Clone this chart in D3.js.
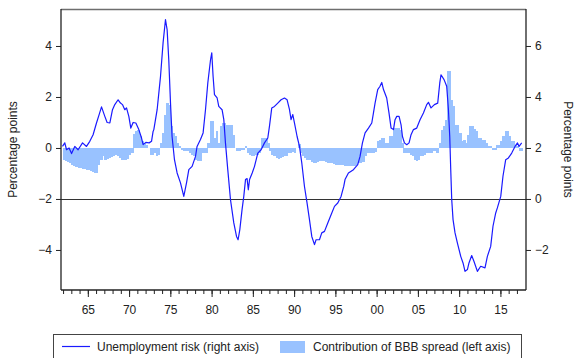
<!DOCTYPE html>
<html>
<head>
<meta charset="utf-8">
<script src="https://cdn.jsdelivr.net/npm/d3@7"></script>
<style>
  html, body { margin: 0; padding: 0; background: #fff; }
  svg { display: block; font-family: "Liberation Sans", Arial, sans-serif; }
</style>
</head>
<body>
<svg id="chart" width="575" height="358"></svg>
<script>
// Unemployment risk (right axis, percentage points), sampled along the curve
const riskYears = [1961.93,1962.21,1962.42,1962.73,1963.03,1963.42,1963.82,1964.36,1964.84,1965.24,1965.64,1966.05,1966.37,1966.66,1967.06,1967.34,1967.67,1967.99,1968.27,1968.67,1968.96,1969.2,1969.48,1969.69,1969.97,1970.21,1970.49,1970.82,1971.18,1971.51,1971.7,1972.03,1972.43,1972.72,1972.91,1973.0,1973.4,1973.81,1974.12,1974.41,1974.61,1974.81,1975.02,1975.21,1975.5,1975.82,1976.23,1976.63,1976.96,1977.24,1977.64,1978.05,1978.24,1978.65,1978.97,1979.26,1979.54,1979.87,1980.02,1980.18,1980.35,1980.67,1980.87,1981.27,1981.48,1981.68,1981.96,1982.29,1982.69,1983.02,1983.21,1983.42,1983.69,1983.9,1984.11,1984.3,1984.45,1984.6,1984.92,1985.2,1985.6,1986.0,1986.41,1986.81,1987.01,1987.29,1987.62,1988.02,1988.42,1988.83,1989.15,1989.44,1989.63,1989.84,1990.04,1990.36,1990.65,1990.93,1991.25,1991.57,1991.86,1992.14,1992.47,1992.66,1993.07,1993.35,1993.68,1994.08,1994.48,1994.89,1995.29,1995.69,1996.02,1996.17,1996.58,1997.19,1997.71,1997.99,1998.28,1998.6,1999.01,1999.41,1999.61,1999.81,2000.13,2000.41,2000.62,2000.83,2001.22,2001.5,2001.75,2002.04,2002.23,2002.44,2002.72,2002.96,2003.13,2003.37,2003.65,2003.93,2004.17,2004.46,2004.86,2005.26,2005.67,2006.07,2006.28,2006.59,2007.0,2007.4,2007.65,2007.8,2008.17,2008.49,2008.7,2008.86,2008.98,2009.1,2009.26,2009.5,2009.79,2010.19,2010.47,2010.71,2011.0,2011.19,2011.52,2011.8,2012.21,2012.61,2013.13,2013.42,2013.82,2014.1,2014.43,2014.63,2015.04,2015.31,2015.64,2015.97,2016.37,2016.77,2017.07,2017.26,2017.58];
const riskValues = [2.06,2.2,1.93,2.0,1.78,2.06,1.93,2.2,2.06,2.26,2.52,2.98,3.31,3.61,3.24,3.0,2.98,3.5,3.7,3.89,3.76,3.7,3.5,3.57,3.24,2.78,3.0,2.98,2.72,2.39,2.13,2.22,2.2,2.26,2.65,2.72,3.5,4.81,6.12,7.03,6.64,5.46,3.76,2.45,1.54,1.02,0.63,0.1,0.63,1.15,1.28,1.67,2.06,2.33,2.59,3.5,4.55,5.46,5.73,4.81,4.09,3.96,3.63,3.5,3.11,2.2,1.15,-0.03,-0.94,-1.47,-1.6,-1.2,-0.42,0.1,0.76,0.8,0.36,0.76,1.02,1.28,1.8,1.93,2.2,2.39,2.85,3.57,3.63,3.76,3.89,3.96,3.89,3.5,3.11,3.31,2.98,2.45,2.06,1.41,0.5,-0.16,-0.81,-1.47,-1.79,-1.6,-1.6,-1.33,-1.27,-0.94,-0.62,-0.29,-0.16,0.1,0.5,0.76,1.02,1.15,1.35,1.67,2.2,2.59,2.78,2.98,3.37,3.76,4.29,4.42,4.57,4.29,3.96,3.37,2.78,2.72,3.11,3.24,3.24,2.91,2.45,2.2,2.13,2.2,2.52,2.72,2.78,3.11,3.37,3.7,3.79,3.57,3.7,3.76,4.55,4.87,4.68,4.42,3.5,2.45,1.15,-0.03,-0.81,-1.33,-1.73,-2.25,-2.51,-2.84,-2.77,-2.51,-2.22,-2.45,-2.84,-2.64,-2.7,-2.25,-1.86,-1.07,-0.55,-0.35,0.1,0.89,1.54,1.61,1.8,2.06,2.2,2.06,2.2];

// Contribution of BBB spread (left axis), quarterly from 1962Q1
const spreadStart = 1962;
const spreadValues = [
  -0.46,-0.5,-0.55,-0.59,   -0.65,-0.7,-0.75,-0.78,   -0.8,-0.82,-0.82,-0.85,   -0.88,-0.91,-0.95,-0.98,
  -0.98,-0.65,-0.46,-0.33,  -0.46,-0.42,-0.39,-0.36,  -0.33,-0.26,-0.3,-0.39,   -0.46,-0.46,-0.46,-0.42,
  -0.26,-0.2,0.55,0.65,     0.69,0.46,0.26,0.2,       0.13,0.0,-0.26,-0.26,     -0.2,-0.33,-0.26,0.2,
  0.6,1.3,1.75,1.7,         0.85,0.59,0.46,0.2,       0.06,-0.07,-0.13,-0.13,   -0.13,-0.2,-0.26,-0.33,
  -0.46,-0.52,-0.52,-0.2,   -0.2,-0.2,0.2,1.04,       1.04,0.39,0.65,0.2,       0.85,0.98,0.98,0.91,
  0.91,0.91,0.52,0.0,       -0.13,-0.13,-0.07,-0.07,  0.06,-0.2,-0.26,-0.33,    -0.33,-0.26,-0.26,-0.2,
  0.4,0.4,0.4,0.2,          -0.13,-0.26,-0.3,-0.39,   -0.42,-0.39,-0.35,-0.33,  -0.3,-0.2,-0.2,-0.15,
  -0.2,0.0,0.15,-0.2,       -0.33,-0.4,-0.46,-0.46,   -0.55,-0.59,-0.59,-0.55,  -0.52,-0.52,-0.52,-0.55,
  -0.59,-0.59,-0.59,-0.62,  -0.65,-0.65,-0.65,-0.65,  -0.72,-0.72,-0.72,-0.72,  -0.72,-0.7,-0.65,-0.6,
  -0.59,-0.55,-0.3,-0.2,    -0.2,-0.2,-0.2,-0.15,     0.26,0.33,0.39,0.39,      0.2,0.2,0.46,0.46,
  0.78,0.78,0.78,0.7,       0.2,-0.2,-0.2,-0.2,       -0.26,-0.33,-0.46,-0.52,  -0.46,-0.33,-0.33,-0.26,
  -0.2,-0.2,-0.2,-0.13,     -0.13,-0.2,0.2,0.72,      0.85,1.1,3.0,3.0,         1.9,1.63,0.91,0.91,
  0.59,0.26,0.33,0.2,       0.52,0.85,0.85,0.75,      0.65,0.39,0.39,0.33,      0.33,0.2,0.06,0.06,
  -0.07,-0.07,0.13,0.13,    0.26,0.46,0.65,0.65,      0.46,0.26,0.26,0.13,      0.06,-0.13,-0.13
];

const yearTicks = [1965, 1970, 1975, 1980, 1985, 1990, 1995, 2000, 2005, 2010, 2015];
const leftTicks = [-4, -2, 0, 2, 4];
const rightTicks = [-2, 0, 2, 4, 6];
const axisTitle = "Percentage points";
const legendLabels = ["Unemployment risk (right axis)", "Contribution of BBB spread (left axis)"];

const lineColor = "#1a1aff";
const barColor = "#99c2ff";

const plot = { left: 61, right: 526, top: 9, bottom: 290 };
const svg = d3.select("#chart");

const x = d3.scaleLinear().domain([1961.75, 2018.1]).range([plot.left, plot.right]);
const yL = d3.scaleLinear().domain([-5.57, 5.45]).range([plot.bottom, plot.top]);
const yR = d3.scaleLinear().domain([-3.57, 7.45]).range([plot.bottom, plot.top]);

// Quarterly bars of the spread contribution
svg.append("g").attr("shape-rendering", "crispEdges")
  .selectAll("rect").data(spreadValues).join("rect")
  .attr("x", (d, i) => x(spreadStart + i / 4))
  .attr("width", (d, i) => x(spreadStart + (i + 1) / 4) - x(spreadStart + i / 4) + 0.3)
  .attr("y", d => Math.min(yL(d), yL(0)))
  .attr("height", d => Math.abs(yL(d) - yL(0)))
  .attr("fill", barColor);

// Zero line of the right axis
svg.append("line")
  .attr("x1", plot.left).attr("x2", plot.right)
  .attr("y1", Math.round(yR(0)) + 0.5).attr("y2", Math.round(yR(0)) + 0.5)
  .attr("stroke", "#333").attr("stroke-width", 1);

// Unemployment risk line
const riskPoints = riskYears.map((yr, i) => [yr, riskValues[i]]);
svg.append("path")
  .datum(riskPoints)
  .attr("fill", "none")
  .attr("stroke", lineColor)
  .attr("stroke-width", 1.2)
  .attr("stroke-linejoin", "round")
  .attr("d", d3.line().x(d => x(d[0])).y(d => yR(d[1])));

// Frame
svg.append("line").attr("x1", plot.left).attr("x2", plot.right)
  .attr("y1", plot.top + 0.5).attr("y2", plot.top + 0.5)
  .attr("stroke", "#6e6e6e").attr("stroke-width", 1.5);

// Left axis
const leftAxis = svg.append("g")
  .attr("transform", `translate(${plot.left},0)`)
  .call(d3.axisLeft(yL).tickValues(leftTicks).tickSize(5).tickPadding(4).tickFormat(d3.format("d")));
// Right axis
const rightAxis = svg.append("g")
  .attr("transform", `translate(${plot.right},0)`)
  .call(d3.axisRight(yR).tickValues(rightTicks).tickSize(5).tickPadding(4).tickFormat(d3.format("d")));
// Bottom axis: yearly minor ticks, five-year labelled ticks
const minorYears = d3.range(1962, 2018);
const bottomMinor = svg.append("g")
  .attr("transform", `translate(0,${plot.bottom})`)
  .call(d3.axisBottom(x).tickValues(minorYears).tickSize(4).tickFormat(""));
const bottomAxis = svg.append("g")
  .attr("transform", `translate(0,${plot.bottom})`)
  .call(d3.axisBottom(x).tickValues(yearTicks).tickSize(7).tickPadding(8)
    .tickFormat(d => String(d % 100).padStart(2, "0")));

[leftAxis, rightAxis, bottomMinor, bottomAxis].forEach(g => {
  g.select(".domain").attr("stroke", "#222").attr("stroke-width", 1.3);
  g.selectAll(".tick line").attr("stroke", "#222");
  g.selectAll("text").attr("font-size", 12).attr("fill", "#222")
    .attr("font-family", "Liberation Sans, Arial, sans-serif");
});
bottomMinor.select(".domain").attr("d", `M${plot.left},0H${plot.right}`);
bottomAxis.select(".domain").remove();
leftAxis.select(".domain").attr("d", `M0,${plot.top}V${plot.bottom}`);
rightAxis.select(".domain").attr("d", `M0,${plot.top}V${plot.bottom}`);

// Axis titles
svg.append("text")
  .attr("transform", `translate(17,${(plot.top + plot.bottom) / 2}) rotate(-90)`)
  .attr("text-anchor", "middle").attr("font-size", 12).attr("fill", "#222")
  .text(axisTitle);
svg.append("text")
  .attr("transform", `translate(564,${(plot.top + plot.bottom) / 2}) rotate(90)`)
  .attr("text-anchor", "middle").attr("font-size", 12).attr("fill", "#222")
  .text(axisTitle);

// Legend
const legend = svg.append("g");
legend.append("rect")
  .attr("x", 53.5).attr("y", 334.5).attr("width", 468).attr("height", 30)
  .attr("fill", "#fff").attr("stroke", "#444").attr("stroke-width", 1);
legend.append("line")
  .attr("x1", 62).attr("x2", 90).attr("y1", 346.5).attr("y2", 346.5)
  .attr("stroke", lineColor).attr("stroke-width", 1.2);
legend.append("text").attr("x", 97).attr("y", 350.5)
  .attr("font-size", 12).attr("fill", "#222").text(legendLabels[0]);
legend.append("rect")
  .attr("x", 280).attr("y", 341).attr("width", 25).attr("height", 12)
  .attr("fill", barColor);
legend.append("text").attr("x", 313).attr("y", 350.5)
  .attr("font-size", 12).attr("fill", "#222").text(legendLabels[1]);
</script>
</body>
</html>
